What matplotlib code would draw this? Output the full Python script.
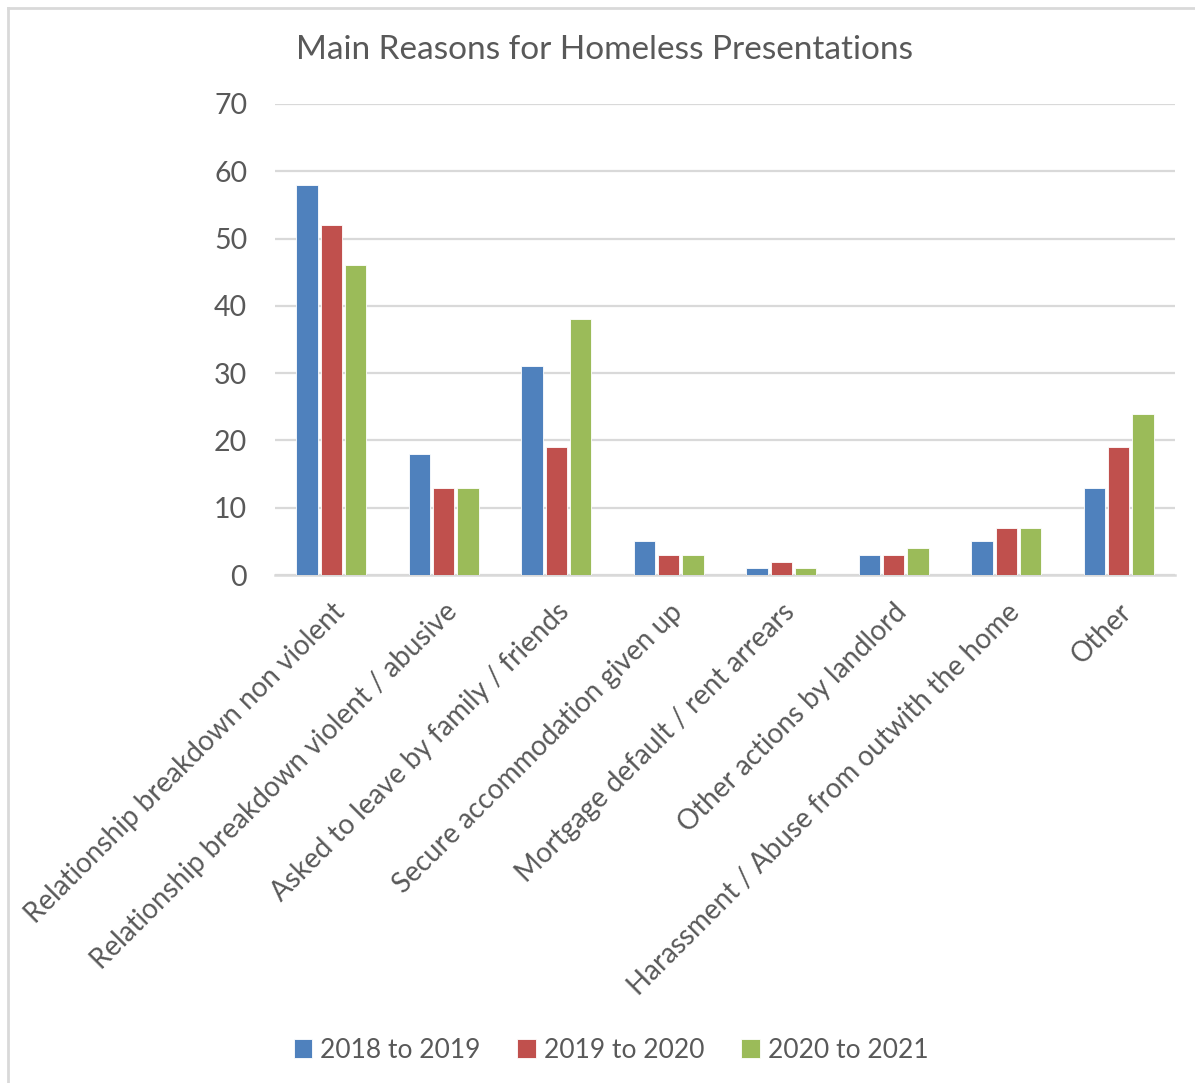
import numpy as np
import matplotlib
matplotlib.use('Agg')
import matplotlib.pyplot as plt
from matplotlib.lines import Line2D

plt.rcParams['font.family'] = ['Lato', 'DejaVu Sans']

# Data
categories = [
    'Relationship breakdown non violent',
    'Relationship breakdown violent / abusive',
    'Asked to leave by family / friends',
    'Secure accommodation given up',
    'Mortgage default / rent arrears',
    'Other actions by landlord',
    'Harassment / Abuse from outwith the home',
    'Other',
]
y2018_19 = [58, 18, 31, 5, 1, 3, 5, 13]
y2019_20 = [52, 13, 19, 3, 2, 3, 7, 19]
y2020_21 = [46, 13, 38, 3, 1, 4, 7, 24]
series_names = ['2018 to 2019', '2019 to 2020', '2020 to 2021']
colors = ['#4F81BD', '#C0504D', '#9BBB59']
text_col = '#595959'
grid_col = '#D9D9D9'

fig = plt.figure(figsize=(11.95, 10.83), dpi=100)
ax = fig.add_axes([275 / 1195, 1 - 575 / 1083, 900 / 1195, 471 / 1083])

x = np.arange(len(categories))
width = 0.19
offset = 0.215
for i, (vals, name, c) in enumerate(zip([y2018_19, y2019_20, y2020_21], series_names, colors)):
    ax.bar(x + (i - 1) * offset, vals, width, color=c, label=name,
           edgecolor='white', linewidth=0.6, zorder=3)

ax.set_xlim(-0.5, len(categories) - 0.5)
ax.set_ylim(0, 70)
ax.set_yticks(range(0, 71, 10))
ax.yaxis.grid(True, color=grid_col, linewidth=1.6, zorder=0)
ax.set_axisbelow(True)
for s in ['top', 'right', 'left']:
    ax.spines[s].set_visible(False)
ax.spines['bottom'].set_color(grid_col)
ax.spines['bottom'].set_linewidth(1.8)
ax.tick_params(axis='both', length=0, colors=text_col, labelsize=20.5)
ax.tick_params(axis='y', pad=20)
ax.set_xticks(x)
ax.set_xticklabels(categories, rotation=45, ha='right', va='top',
                   rotation_mode='anchor', fontsize=20, color=text_col)
ax.tick_params(axis='x', pad=17)

fig.text(605 / 1195, 1 - 50 / 1083, 'Main Reasons for Homeless Presentations',
         ha='center', va='center', fontsize=24, color=text_col)

leg = fig.legend(loc='center', bbox_to_anchor=(611 / 1195, 1 - 1050 / 1083), ncol=3,
                 frameon=False, fontsize=19, handlelength=0.7, handleheight=0.7,
                 handletextpad=0.3, columnspacing=1.4)
for t in leg.get_texts():
    t.set_color(text_col)

# chart border (left and top edges visible)
fig.add_artist(Line2D([8 / 1195, 8 / 1195], [0, 1 - 8 / 1083], color=grid_col, linewidth=2,
                      transform=fig.transFigure))
fig.add_artist(Line2D([8 / 1195, 1], [1 - 8 / 1083, 1 - 8 / 1083], color=grid_col, linewidth=2,
                      transform=fig.transFigure))

fig.savefig('out.png', dpi=100)
